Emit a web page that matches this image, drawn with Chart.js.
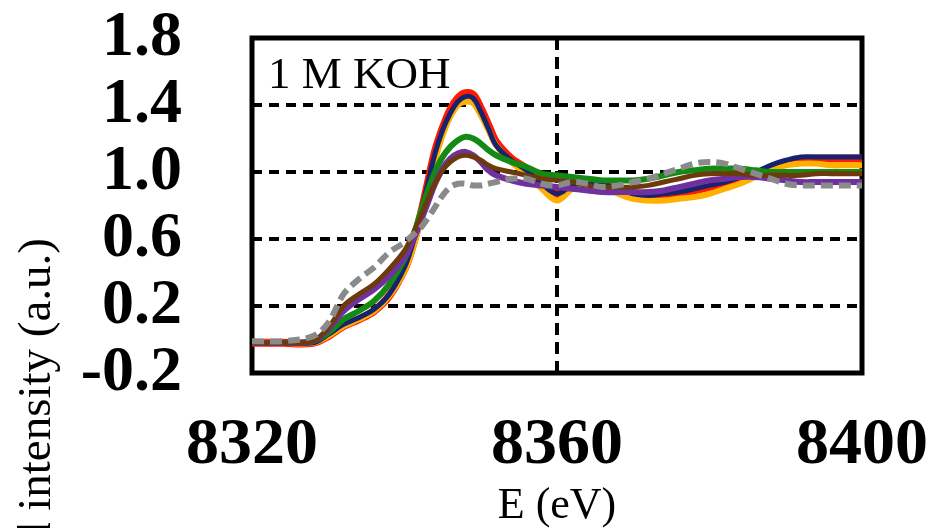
<!DOCTYPE html>
<html>
<head>
<meta charset="utf-8">
<script src="https://cdn.jsdelivr.net/npm/chart.js@4.4.1/dist/chart.umd.min.js"></script>
<style>
  html, body { margin: 0; padding: 0; background: #fff; }
  #wrap { width: 928px; height: 528px; }
</style>
</head>
<body>
<div id="wrap"><canvas id="xanes" width="928" height="528"></canvas></div>
<script>
// Photon energy grid (eV)
const energy = [8320, 8324, 8328, 8330, 8332, 8334, 8336, 8338, 8340, 8341, 8342, 8343, 8344, 8345, 8346, 8347, 8348, 8349, 8350, 8351, 8352, 8354, 8356, 8358, 8360, 8362, 8364, 8366, 8368, 8370, 8372, 8374, 8376, 8378, 8380, 8382, 8384, 8386, 8388, 8390, 8392, 8394, 8396, 8398, 8400];

// Normalized Ni K-edge intensity for each spectrum
const specRed    = [-0.02, -0.02, -0.02, 0.02, 0.08, 0.12, 0.17, 0.26, 0.42, 0.55, 0.72, 0.92, 1.12, 1.26, 1.37, 1.44, 1.47, 1.46, 1.38, 1.28, 1.18, 1.08, 1.02, 0.94, 0.87, 0.92, 0.94, 0.93, 0.89, 0.86, 0.85, 0.86, 0.87, 0.89, 0.91, 0.93, 0.95, 0.98, 1.02, 1.05, 1.07, 1.08, 1.08, 1.08, 1.08];
const specNavy   = [-0.02, -0.02, -0.02, 0.03, 0.09, 0.13, 0.18, 0.27, 0.43, 0.56, 0.73, 0.92, 1.11, 1.25, 1.35, 1.42, 1.45, 1.44, 1.36, 1.26, 1.16, 1.07, 1.01, 0.93, 0.87, 0.92, 0.94, 0.93, 0.90, 0.87, 0.86, 0.87, 0.88, 0.90, 0.92, 0.94, 0.97, 1.00, 1.04, 1.07, 1.09, 1.09, 1.09, 1.09, 1.09];
const specGold   = [-0.02, -0.02, -0.02, 0.02, 0.08, 0.12, 0.17, 0.26, 0.41, 0.53, 0.69, 0.88, 1.07, 1.22, 1.33, 1.40, 1.42, 1.41, 1.34, 1.25, 1.16, 1.06, 0.99, 0.90, 0.83, 0.90, 0.93, 0.92, 0.87, 0.84, 0.83, 0.83, 0.84, 0.85, 0.87, 0.90, 0.93, 0.97, 1.01, 1.04, 1.05, 1.05, 1.04, 1.04, 1.04];
const specGreen  = [-0.02, -0.02, -0.01, 0.04, 0.12, 0.17, 0.23, 0.33, 0.48, 0.60, 0.74, 0.88, 1.00, 1.09, 1.15, 1.19, 1.21, 1.20, 1.17, 1.13, 1.10, 1.06, 1.03, 0.99, 0.98, 0.97, 0.96, 0.95, 0.95, 0.95, 0.96, 0.98, 1.00, 1.01, 1.02, 1.02, 1.02, 1.01, 1.00, 1.00, 1.00, 1.00, 1.00, 1.00, 1.00];
const specPurple = [-0.02, -0.02, -0.01, 0.06, 0.17, 0.24, 0.30, 0.38, 0.49, 0.58, 0.69, 0.81, 0.93, 1.02, 1.08, 1.11, 1.12, 1.10, 1.06, 1.01, 0.98, 0.95, 0.93, 0.92, 0.91, 0.90, 0.89, 0.88, 0.88, 0.88, 0.88, 0.89, 0.91, 0.93, 0.95, 0.96, 0.97, 0.97, 0.96, 0.95, 0.94, 0.94, 0.94, 0.94, 0.94];
const specBrown  = [-0.02, -0.02, -0.01, 0.07, 0.20, 0.27, 0.33, 0.42, 0.53, 0.62, 0.72, 0.83, 0.93, 1.01, 1.06, 1.09, 1.10, 1.09, 1.07, 1.04, 1.02, 1.00, 0.98, 0.96, 0.95, 0.94, 0.92, 0.91, 0.91, 0.91, 0.92, 0.94, 0.96, 0.98, 0.99, 0.99, 0.99, 0.98, 0.98, 0.98, 0.98, 0.99, 0.99, 0.99, 0.99];
const specGray   = [-0.01, -0.01, 0.02, 0.10, 0.27, 0.36, 0.43, 0.52, 0.58, 0.62, 0.66, 0.72, 0.79, 0.86, 0.91, 0.93, 0.93, 0.92, 0.92, 0.93, 0.94, 0.96, 0.96, 0.93, 0.92, 0.94, 0.93, 0.91, 0.92, 0.94, 0.96, 0.99, 1.02, 1.05, 1.06, 1.05, 1.02, 0.99, 0.96, 0.93, 0.92, 0.92, 0.92, 0.92, 0.92];

// Axis ticks and labels
const xTicks = [8320, 8360, 8400];
const yTicks = [-0.2, 0.2, 0.6, 1.0, 1.4, 1.8];
const xTitle = 'E (eV)';
const yTitle = 'Normalized intensity (a.u.)';
const panelLabel = '1 M KOH';

const serif = '"Liberation Serif", "Times New Roman", serif';
const clear = 'rgba(0,0,0,0)';

function spectrum(values, color, width, order, dash) {
  return {
    data: energy.map((e, i) => ({ x: e, y: values[i] })),
    borderColor: color,
    borderWidth: width,
    borderDash: dash || [],
    pointRadius: 0,
    tension: 0.35,
    fill: false,
    order: order
  };
}

// Plot frame, panel label and the vertical axis title
const frameAndNotes = {
  id: 'frameAndNotes',
  beforeDatasetsDraw(chart) {
    const { ctx, chartArea: a } = chart;
    ctx.save();
    ctx.strokeStyle = '#000';
    ctx.lineWidth = 5;
    ctx.strokeRect(a.left, a.top, a.right - a.left, a.bottom - a.top);
    ctx.restore();
  },
  afterDraw(chart) {
    const { ctx, chartArea: a } = chart;
    ctx.save();
    ctx.fillStyle = '#000';
    ctx.font = '45px ' + serif;
    ctx.textAlign = 'left';
    ctx.textBaseline = 'alphabetic';
    ctx.fillText(panelLabel, a.left + 16, a.top + 50);
    ctx.translate(50, 238);
    ctx.rotate(-Math.PI / 2);
    ctx.textAlign = 'right';
    ctx.font = '47px ' + serif;
    ctx.fillText(yTitle, 0, 0);
    ctx.restore();
  }
};

new Chart(document.getElementById('xanes'), {
  type: 'line',
  data: {
    datasets: [
      spectrum(specRed, '#ff1a00', 8, 6),
      spectrum(specGold, '#ffb000', 6, 5),
      spectrum(specNavy, '#16236e', 5, 4),
      spectrum(specGreen, '#138a13', 6, 3),
      spectrum(specPurple, '#7030a0', 6, 2),
      spectrum(specBrown, '#6e3a0c', 5, 1),
      spectrum(specGray, '#8a8a8a', 6, 0, [12, 6])
    ]
  },
  options: {
    responsive: false,
    animation: false,
    devicePixelRatio: 1,
    layout: { padding: { top: 38, right: 66, bottom: 0, left: 0 } },
    plugins: { legend: { display: false }, tooltip: { enabled: false } },
    scales: {
      x: {
        type: 'linear',
        min: 8320,
        max: 8400,
        afterBuildTicks: s => { s.ticks = xTicks.map(v => ({ value: v })); },
        afterFit: s => { s.height = 155; },
        ticks: {
          autoSkip: false,
          maxRotation: 0,
          padding: 0,
          color: '#000',
          font: { family: serif, size: 66, weight: 'bold', lineHeight: 1.0 },
          callback: v => String(v)
        },
        grid: {
          drawTicks: true,
          tickLength: 40,
          tickColor: clear,
          lineWidth: 4,
          color: c => (c.tick && c.tick.value === 8360) ? '#000' : clear
        },
        border: { display: false, dash: [12, 7] },
        title: {
          display: true,
          text: xTitle,
          color: '#000',
          padding: 0,
          font: { family: serif, size: 44, lineHeight: 1.0 }
        }
      },
      y: {
        type: 'linear',
        min: -0.2,
        max: 1.8,
        afterBuildTicks: s => { s.ticks = yTicks.map(v => ({ value: v })); },
        afterFit: s => { s.width = 252; },
        ticks: {
          autoSkip: false,
          padding: 0,
          color: '#000',
          font: { family: serif, size: 64, weight: 'bold', lineHeight: 1.0 },
          callback: v => Number(v).toFixed(1)
        },
        grid: {
          drawTicks: true,
          tickLength: 70,
          tickColor: clear,
          lineWidth: 4,
          color: c => (c.tick && c.tick.value > -0.1 && c.tick.value < 1.7) ? '#000' : clear
        },
        border: { display: false, dash: [10, 7] }
      }
    }
  },
  plugins: [frameAndNotes]
});
</script>
</body>
</html>
